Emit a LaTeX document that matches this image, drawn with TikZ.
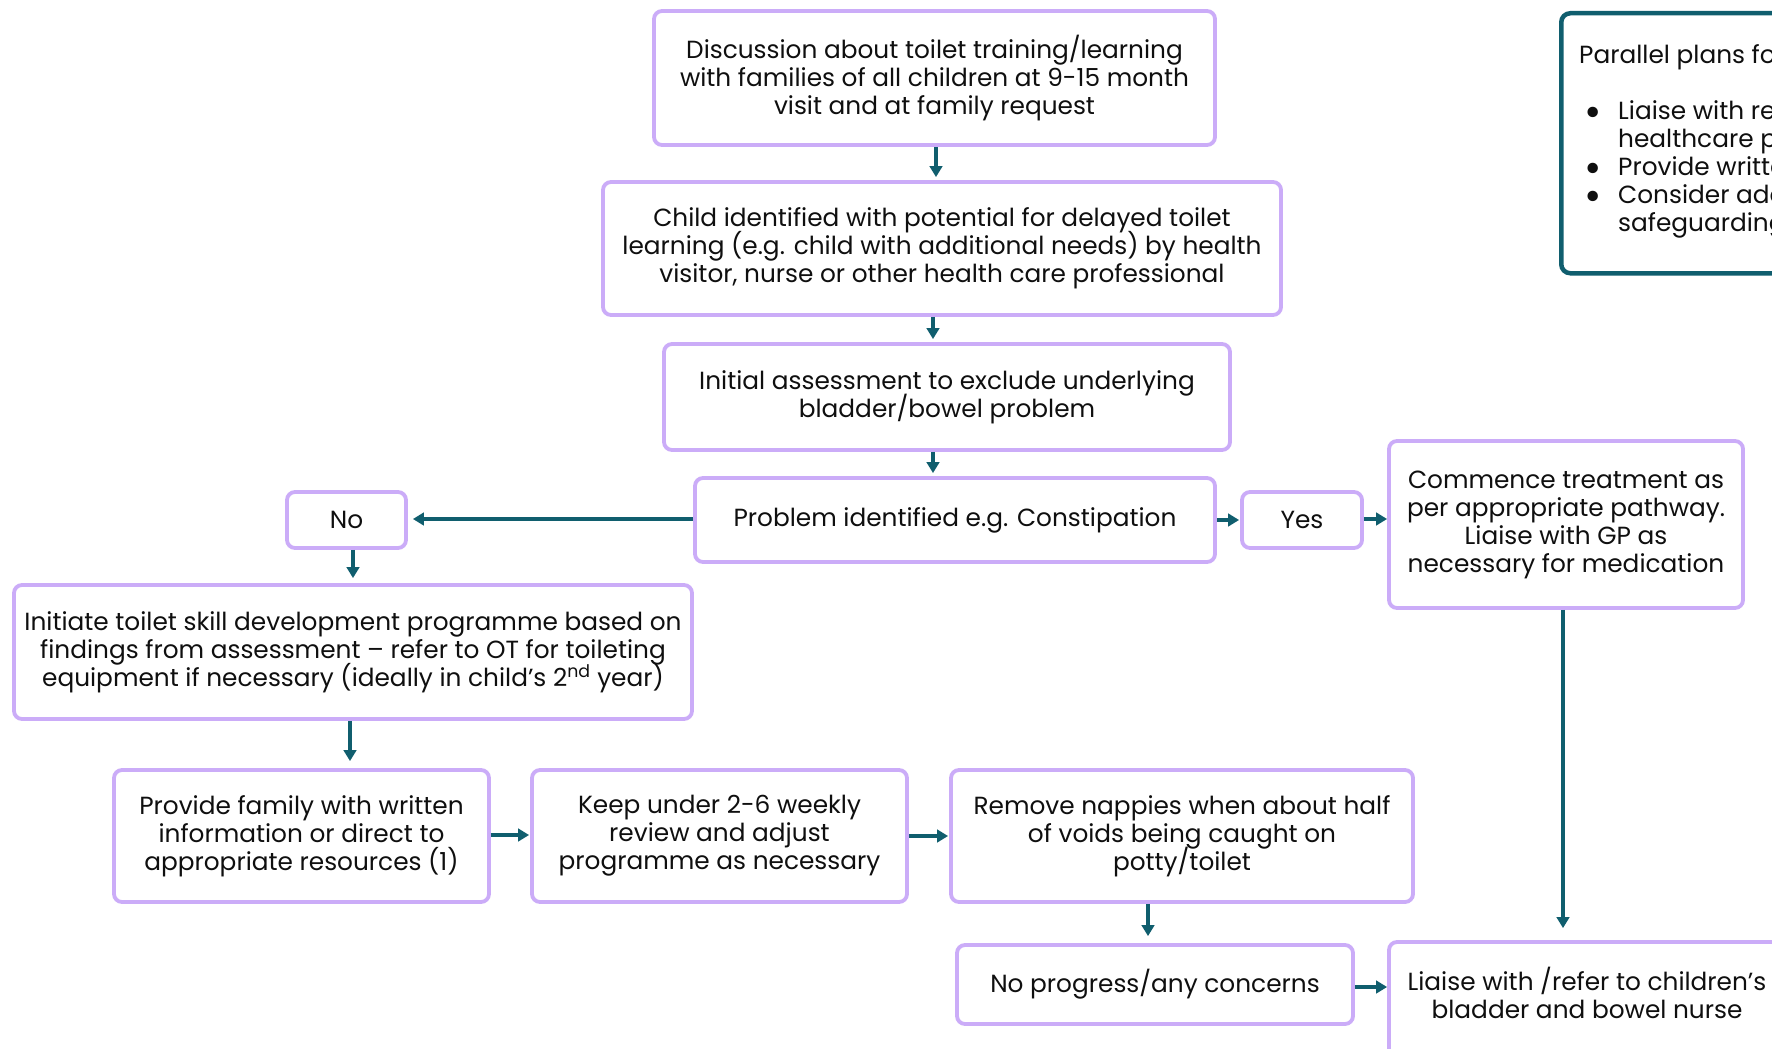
\documentclass[tikz,border=0pt]{standalone}
\usepackage{fontspec}
\setmainfont{Poppins}
\usetikzlibrary{arrows.meta}
\definecolor{lav}{RGB}{203,172,248}
\definecolor{tealc}{RGB}{16,94,110}
\definecolor{txt}{RGB}{15,15,15}
\newcommand{\boxfont}{\fontsize{24.8}{28}\selectfont\lineskiplimit=-100pt\relax}
\tikzset{
  box/.style={draw=lav, line width=3.8pt, rounded corners=8pt, fill=white,
    align=center, inner sep=0pt, text=txt, font=\boxfont},
  arr/.style={draw=tealc, line width=3.6pt, -{Triangle[length=11pt,width=12.5pt]}},
  plain/.style={inner sep=0pt, text=txt, font=\fontsize{24.8}{28}\selectfont}
}
\newcommand{\bigbul}{\raisebox{-6.5pt}{\scalebox{1.7}{\textbullet}}}
\begin{document}
\begin{tikzpicture}[x=1pt,y=-1pt]
\useasboundingbox (0,0) rectangle (1772,1049);
\fill[white] (0,0) rectangle (1772,1049);
\clip (0,0) rectangle (1772,1049);

\node[box, minimum width=561pt, minimum height=134pt] (b1) at (934.5,78)
  {Discussion about toilet training/learning\\with families of all children at 9-15 month\\visit and at family request};
\node[box, minimum width=678pt, minimum height=133pt] (b2) at (942,248.5)
  {Child identified with potential for delayed toilet\\learning (e.g. child with additional needs) by health\\visitor, nurse or other health care professional};
\node[box, minimum width=566pt, minimum height=106pt] (b3) at (947,397)
  {Initial assessment to exclude underlying\\bladder/bowel problem};
\node[box, minimum width=520pt, minimum height=84pt] (b4) at (955,520)
  {Problem identified e.g. Constipation};
\node[box, minimum width=119pt, minimum height=56pt] (no) at (346.5,520) {No};
\node[box, minimum width=120pt, minimum height=56pt] (yes) at (1302,520) {Yes};
\node[box, minimum width=354pt, minimum height=167pt] (comm) at (1566,524.5)
  {Commence treatment as\\per appropriate pathway.\\Liaise with GP as\\necessary for medication};
\node[box, minimum width=678pt, minimum height=134pt] (init) at (353,652)
  {Initiate toilet skill development programme based on\\findings from assessment – refer to OT for toileting\\equipment if necessary (ideally in child’s 2\textsuperscript{nd} year)};
\node[box, minimum width=375pt, minimum height=132pt] (prov) at (301.5,836)
  {Provide family with written\\information or direct to\\appropriate resources (1)};
\node[box, minimum width=375pt, minimum height=132pt] (keep) at (719.5,836)
  {Keep under 2-6 weekly\\review and adjust\\programme as necessary};
\node[box, minimum width=462pt, minimum height=132pt] (rem) at (1182,836)
  {Remove nappies when about half\\of voids being caught on\\potty/toilet};
\node[box, minimum width=396pt, minimum height=79pt] (nop) at (1155,984.5)
  {No progress/any concerns};
\node[box, minimum width=401pt, minimum height=130pt] (liaise) at (1589.5,1007) {};
\node[plain, align=center, font=\boxfont] (liaisetxt) at (1587,993)
  {Liaise with /refer to children’s\\bladder and bowel nurse};

% parallel plans box
\node[draw=tealc, line width=4.5pt, rounded corners=9pt, fill=white, inner sep=0pt,
  minimum width=340pt, minimum height=260pt, anchor=north west] (par) at (1559,11) {};
\node[plain, anchor=west] (ptitle) at (1579,57) {Parallel plans for children with additional needs};
\node[plain, anchor=north west] (plist) at (1584,100)
  {\begin{tabular}{@{}p{34pt}@{}l@{}}
   \bigbul & Liaise with relevant\\
           & healthcare professionals\\
   \bigbul & Provide written information\\
   \bigbul & Consider additional\\
           & safeguarding needs
   \end{tabular}};

% connectors
\draw[arr, shorten >=3pt] ([xshift=1.5pt]b1.south) -- ([xshift=1.5pt]b1.south |- b2.north);
\draw[arr, shorten >=3pt] ([xshift=-9pt]b2.south) -- ([xshift=-9pt]b2.south |- b3.north);
\draw[arr, shorten >=3pt] ([xshift=-14pt]b3.south) -- ([xshift=-14pt]b3.south |- b4.north);
\draw[arr, shorten >=5pt] ([yshift=1pt]b4.west) -- ([yshift=1pt]b4.west -| no.east);
\draw[arr, shorten >=1pt] (b4.east) -- (b4.east -| yes.west);
\draw[arr, shorten >=0pt] ([yshift=1pt]yes.east) -- ([yshift=1pt]yes.east -| comm.west);
\draw[arr, shorten >=5pt] ([xshift=6.5pt]no.south) -- ([xshift=6.5pt]no.south |- init.north);
\draw[arr, shorten >=7pt] ([xshift=-3pt]init.south) -- ([xshift=-3pt]init.south |- prov.north);
\draw[arr, shorten >=1pt] ([yshift=1pt]prov.east) -- ([yshift=1pt]prov.east -| keep.west);
\draw[arr, shorten >=1pt] (keep.east) -- (keep.east -| rem.west);
\draw[arr, shorten >=7pt] ([xshift=-34pt]rem.south) -- ([xshift=-34pt]rem.south |- nop.north);
\draw[arr, shorten >=12pt] ([xshift=-3pt]comm.south) -- ([xshift=-3pt]comm.south |- liaise.north);
\draw[arr, shorten >=0pt] ([yshift=-2.5pt]nop.east) -- ([yshift=-2.5pt]nop.east -| liaise.west);
\end{tikzpicture}
\end{document}
